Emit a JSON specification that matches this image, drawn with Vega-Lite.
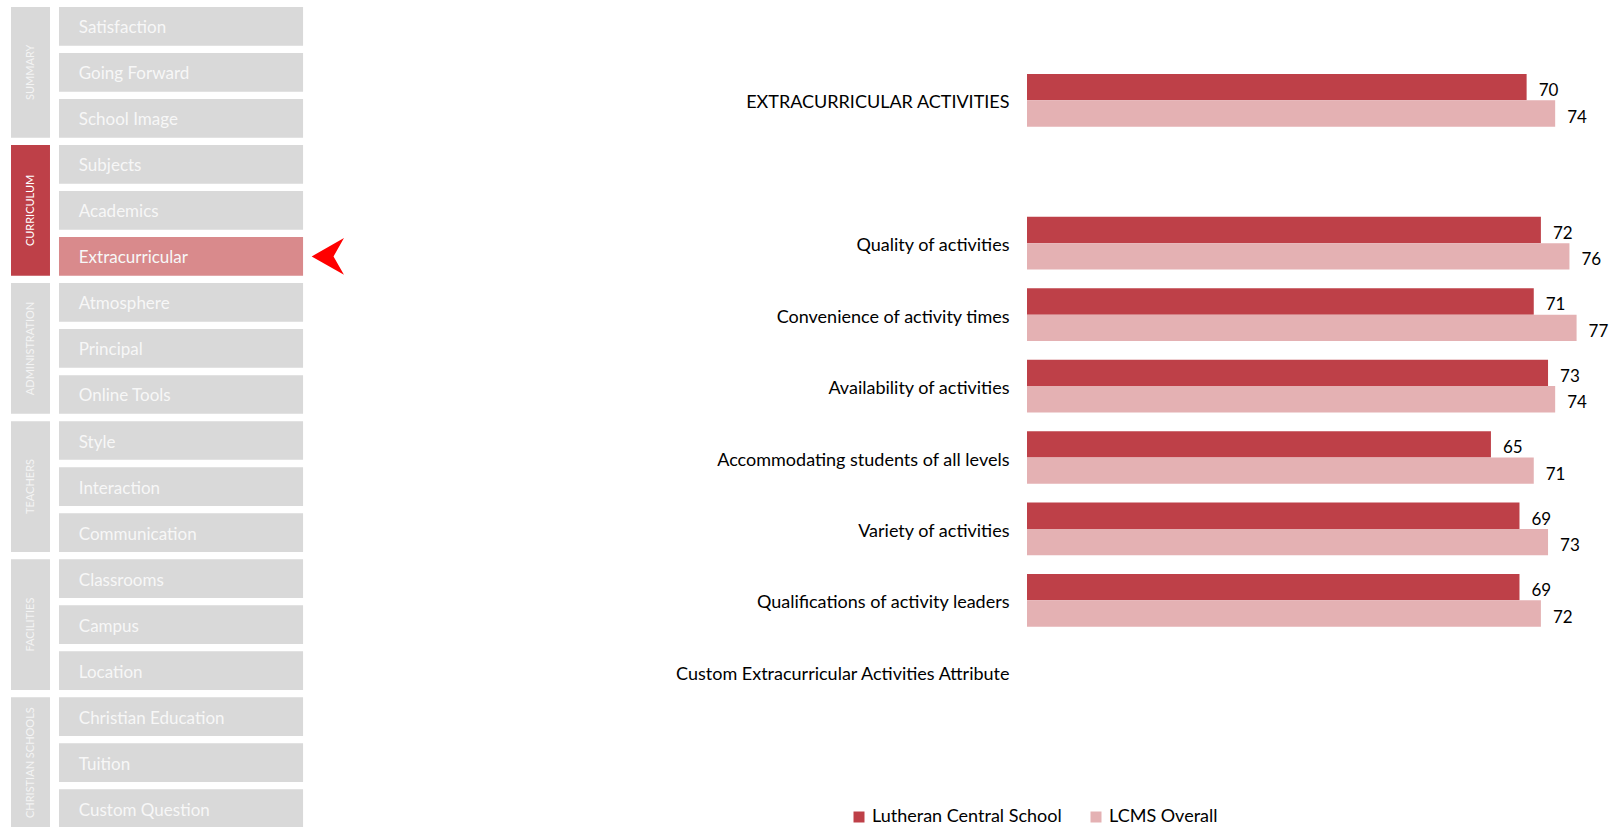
{
  "$schema": "https://vega.github.io/schema/vega-lite/v6.json",
  "padding": 0,
  "background": "white",
  "spacing": 329,
  "config": {"view": {"stroke": null}, "font": "Lato"},
  "datasets": {
    "nav": [
      {"group": "SUMMARY", "item": "Satisfaction", "current": 0},
      {"group": "SUMMARY", "item": "Going Forward", "current": 0},
      {"group": "SUMMARY", "item": "School Image", "current": 0},
      {"group": "CURRICULUM", "item": "Subjects", "current": 0},
      {"group": "CURRICULUM", "item": "Academics", "current": 0},
      {"group": "CURRICULUM", "item": "Extracurricular", "current": 1},
      {"group": "ADMINISTRATION", "item": "Atmosphere", "current": 0},
      {"group": "ADMINISTRATION", "item": "Principal", "current": 0},
      {"group": "ADMINISTRATION", "item": "Online Tools", "current": 0},
      {"group": "TEACHERS", "item": "Style", "current": 0},
      {"group": "TEACHERS", "item": "Interaction", "current": 0},
      {"group": "TEACHERS", "item": "Communication", "current": 0},
      {"group": "FACILITIES", "item": "Classrooms", "current": 0},
      {"group": "FACILITIES", "item": "Campus", "current": 0},
      {"group": "FACILITIES", "item": "Location", "current": 0},
      {"group": "CHRISTIAN SCHOOLS", "item": "Christian Education", "current": 0},
      {"group": "CHRISTIAN SCHOOLS", "item": "Tuition", "current": 0},
      {"group": "CHRISTIAN SCHOOLS", "item": "Custom Question", "current": 0}
    ],
    "scores": [
      {"attribute": "EXTRACURRICULAR ACTIVITIES", "series": "Lutheran Central School", "score": 70},
      {"attribute": "EXTRACURRICULAR ACTIVITIES", "series": "LCMS Overall", "score": 74},
      {"attribute": "Quality of activities", "series": "Lutheran Central School", "score": 72},
      {"attribute": "Quality of activities", "series": "LCMS Overall", "score": 76},
      {"attribute": "Convenience of activity times", "series": "Lutheran Central School", "score": 71},
      {"attribute": "Convenience of activity times", "series": "LCMS Overall", "score": 77},
      {"attribute": "Availability of activities", "series": "Lutheran Central School", "score": 73},
      {"attribute": "Availability of activities", "series": "LCMS Overall", "score": 74},
      {"attribute": "Accommodating students of all levels ", "series": "Lutheran Central School", "score": 65},
      {"attribute": "Accommodating students of all levels ", "series": "LCMS Overall", "score": 71},
      {"attribute": "Variety of activities", "series": "Lutheran Central School", "score": 69},
      {"attribute": "Variety of activities", "series": "LCMS Overall", "score": 73},
      {"attribute": "Qualifications of activity leaders ", "series": "Lutheran Central School", "score": 69},
      {"attribute": "Qualifications of activity leaders ", "series": "LCMS Overall", "score": 72}
    ]
  },
  "hconcat": [
    {
      "width": 344,
      "height": 835,
      "data": {"name": "nav"},
      "layer": [
        {
          "encoding": {
            "y": {
              "field": "item", "type": "nominal", "sort": null, "axis": null,
              "scale": {
                "domain": ["Satisfaction", "Going Forward", "School Image", "Subjects", "Academics", "Extracurricular", "Atmosphere", "Principal", "Online Tools", "Style", "Interaction", "Communication", "Classrooms", "Campus", "Location", "Christian Education", "Tuition", "Custom Question"],
                "paddingInner": 0.159, "paddingOuter": 0.152
              }
            }
          },
          "layer": [
            {
              "mark": {"type": "rect"},
              "encoding": {
                "x": {"datum": 17.15, "type": "quantitative", "scale": {"domain": [0, 100]}, "axis": null},
                "x2": {"datum": 88.1},
                "color": {"condition": {"test": "datum.current == 1", "value": "#d98a8c"}, "value": "#d9d9d9"}
              }
            },
            {
              "mark": {"type": "text", "align": "left", "baseline": "middle", "dy": 2, "fontSize": 17, "font": "Lato", "color": "#f7f7f7"},
              "encoding": {
                "x": {"datum": 22.9, "type": "quantitative", "scale": {"domain": [0, 100]}, "axis": null},
                "text": {"field": "item", "type": "nominal"}
              }
            },
            {
              "transform": [{"filter": "datum.current == 1"}],
              "mark": {"type": "point", "shape": "M-0.85,0 L0.85,-0.97 L0.3,0 L0.85,0.97 Z", "filled": true, "color": "#ff0000", "opacity": 1, "size": 1444, "strokeWidth": 0},
              "encoding": {
                "x": {"datum": 95.3, "type": "quantitative", "scale": {"domain": [0, 100]}, "axis": null}
              }
            }
          ]
        },
        {
          "transform": [{"aggregate": [{"op": "max", "field": "current", "as": "active"}], "groupby": ["group"]}],
          "encoding": {
            "y": {
              "field": "group", "type": "nominal", "sort": null, "axis": null,
              "scale": {
                "domain": ["SUMMARY", "CURRICULUM", "ADMINISTRATION", "TEACHERS", "FACILITIES", "CHRISTIAN SCHOOLS"],
                "paddingInner": 0.053, "paddingOuter": 0.0507
              }
            }
          },
          "layer": [
            {
              "mark": {"type": "rect"},
              "encoding": {
                "x": {"datum": 3.2, "type": "quantitative", "scale": {"domain": [0, 100]}, "axis": null},
                "x2": {"datum": 14.53},
                "color": {"condition": {"test": "datum.active == 1", "value": "#be4048"}, "value": "#d9d9d9"}
              }
            },
            {
              "mark": {"type": "text", "angle": 270, "align": "center", "baseline": "middle", "fontSize": 11, "font": "Lato"},
              "encoding": {
                "x": {"datum": 8.87, "type": "quantitative", "scale": {"domain": [0, 100]}, "axis": null},
                "text": {"field": "group", "type": "nominal"},
                "color": {"condition": {"test": "datum.active == 1", "value": "#ffffff"}, "value": "#f4f4f4"}
              }
            }
          ]
        }
      ],
      "resolve": {"scale": {"y": "independent"}}
    },
    {
      "width": 571,
      "height": 767,
      "data": {"name": "scores"},
      "encoding": {
        "y": {
          "field": "attribute", "type": "nominal", "sort": null,
          "scale": {
            "domain": ["EXTRACURRICULAR ACTIVITIES", " ", "Quality of activities", "Convenience of activity times", "Availability of activities", "Accommodating students of all levels ", "Variety of activities", "Qualifications of activity leaders ", "Custom Extracurricular Activities Attribute"],
            "paddingInner": 0.262, "paddingOuter": 1, "align": 0.518
          },
          "axis": {"title": null, "domain": false, "ticks": false, "grid": false, "labelPadding": 18, "labelOffset": 3, "labelFontSize": 18, "labelFont": "Lato", "labelColor": "#000000", "labelLimit": 0}
        },
        "yOffset": {"field": "series", "type": "nominal", "sort": ["Lutheran Central School", "LCMS Overall"], "scale": {"paddingInner": 0, "paddingOuter": 0}},
        "x": {"field": "score", "type": "quantitative", "scale": {"domain": [0, 80]}, "axis": null}
      },
      "layer": [
        {
          "mark": {"type": "bar"},
          "encoding": {
            "color": {
              "field": "series", "type": "nominal",
              "scale": {"domain": ["Lutheran Central School", "LCMS Overall"], "range": ["#be4048", "#e4b1b3"]},
              "legend": {"title": null, "orient": "none", "legendX": 850, "legendY": 808, "direction": "horizontal", "symbolType": "square", "symbolSize": 121, "symbolStrokeWidth": 0, "labelFontSize": 18, "labelFont": "Lato", "labelColor": "#000000", "labelOffset": 4, "columnPadding": 25, "labelLimit": 0}
            }
          }
        },
        {
          "mark": {"type": "text", "align": "left", "baseline": "middle", "dx": 12, "dy": 4, "fontSize": 17, "font": "Lato", "color": "#000000"},
          "encoding": {"text": {"field": "score", "type": "quantitative"}}
        }
      ]
    }
  ]
}
